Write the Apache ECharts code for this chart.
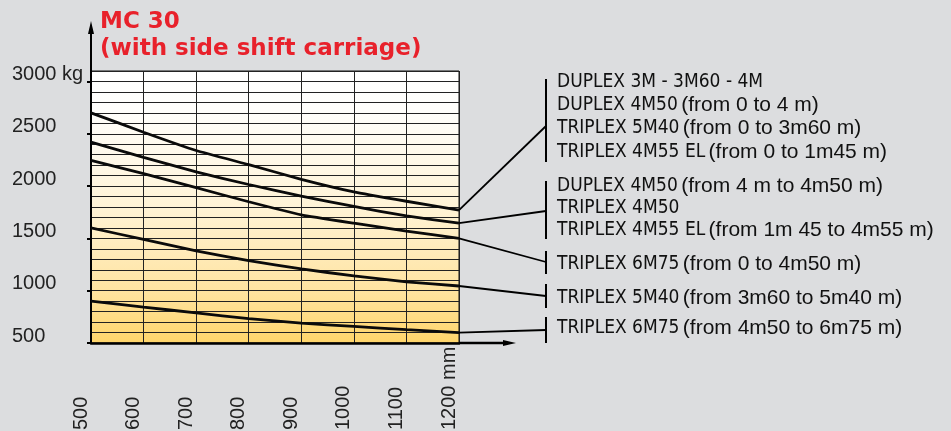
<!DOCTYPE html>
<html>
<head>
<meta charset="utf-8">
<style>
  html, body { margin: 0; padding: 0; background: #dcdddf; }
  #chart { width: 951px; height: 431px; }
</style>
<script src="https://cdn.jsdelivr.net/npm/echarts@6/dist/echarts.min.js"></script>
</head>
<body>
<div id="chart"></div>
<script>
// load centre (mm)
const loadCentres = [500, 600, 700, 800, 900, 1000, 1100, 1200];
// capacity curves (kg), top to bottom
const curveA = [2700, 2515, 2340, 2205, 2065, 1945, 1855, 1770];
const curveB = [2420, 2275, 2135, 2015, 1905, 1805, 1715, 1645];
const curveC = [2245, 2120, 1985, 1850, 1725, 1645, 1570, 1500];
const curveD = [1600, 1490, 1380, 1287, 1208, 1141, 1085, 1045];
const curveE = [900, 843, 788, 733, 690, 658, 627, 600];
const yLabelValues = [500, 1000, 1500, 2000, 2500, 3000];

// legend groups: [condensed part, normal part]
const groupA = [
  ['DUPLEX 3M - 3M60 - 4M', ''],
  ['DUPLEX 4M50', '(from 0 to 4 m)'],
  ['TRIPLEX 5M40', '(from 0 to 3m60 m)'],
  ['TRIPLEX 4M55 EL', '(from 0 to 1m45 m)']
];
const groupB = [
  ['DUPLEX 4M50', '(from 4 m to 4m50 m)'],
  ['TRIPLEX 4M50', ''],
  ['TRIPLEX 4M55 EL', '(from 1m 45 to 4m55 m)']
];
const groupC = [['TRIPLEX 6M75', '(from 0 to 4m50 m)']];
const groupD = [['TRIPLEX 5M40', '(from 3m60 to 5m40 m)']];
const groupE = [['TRIPLEX 6M75', '(from 4m50 to 6m75 m)']];

const chart = echarts.init(document.getElementById('chart'));

function pairs(vals) {
  return vals.map((v, i) => [loadCentres[i], v]);
}

const lineStyle = { color: '#0a0a0a', width: 2.8 };
const series = [curveA, curveB, curveC, curveD, curveE].map(c => ({
  type: 'line',
  data: pairs(c),
  showSymbol: false,
  smooth: 0.12,
  lineStyle: lineStyle,
  silent: true,
  z: 5
}));

const labelFont = { fontFamily: 'Liberation Sans', fontSize: 20, color: '#222' };

chart.setOption({
  backgroundColor: '#dcdddf',
  animation: false,
  grid: {
    left: 91, right: 492, top: 71, bottom: 88,
    outerBoundsMode: 'none',
    show: true,
    borderColor: '#111',
    borderWidth: 1,
    backgroundColor: new echarts.graphic.LinearGradient(0, 0, 0, 1, [
      { offset: 0, color: '#ffffff' },
      { offset: 0.15, color: '#fffefb' },
      { offset: 0.5, color: '#fff3d6' },
      { offset: 0.8, color: '#ffe4a2' },
      { offset: 1, color: '#ffd56a' }
    ])
  },
  xAxis: {
    type: 'value',
    min: 500, max: 1200, interval: 100,
    axisLine: { show: true, lineStyle: { color: '#000', width: 2.5 } },
    axisTick: { show: false },
    splitLine: { show: true, lineStyle: { color: '#222', width: 1 } },
    axisLabel: Object.assign({
      rotate: 90,
      align: 'left',
      verticalAlign: 'bottom',
      margin: 87,
      formatter: v => v === 1200 ? '1200 mm' : String(v)
    }, labelFont)
  },
  yAxis: [
    {
      // fine grid every 100 kg
      type: 'value',
      min: 500, max: 3100, interval: 100,
      axisLine: { show: true, lineStyle: { color: '#000', width: 2 } },
      axisTick: { show: false },
      axisLabel: { show: false },
      splitLine: { show: true, lineStyle: { color: '#222', width: 1 } }
    },
    {
      // labelled ticks every 500 kg
      type: 'value',
      position: 'left',
      min: 500, max: 3100,
      axisLine: { show: false },
      splitLine: { show: false },
      axisTick: {
        show: true,
        customValues: yLabelValues,
        length: 4,
        lineStyle: { color: '#000', width: 2 }
      },
      axisLabel: Object.assign({
        customValues: yLabelValues,
        align: 'left',
        verticalAlign: 'bottom',
        margin: 79,
        padding: [0, 0, -3, 0],
        formatter: v => v === 3000 ? '3000 kg' : String(v)
      }, labelFont)
    }
  ],
  series: series
});

// annotations: title, axis arrows, leader lines, brackets, legend texts
const bracketX = 546;
const textX = 557;
const brackets = [[79, 162], [181, 239], [251, 274], [284, 308], [317, 343]];
const leaderTargets = [126, 211, 262, 296, 330];
const curves = [curveA, curveB, curveC, curveD, curveE];
const groups = [groupA, groupB, groupC, groupD, groupE];
const groupTextY = [[82, 105, 128, 152], [186, 208, 230], [264], [298], [328]];

const g = [];
g.push({
  type: 'text', left: 100, top: 9,
  style: {
    text: 'MC 30\n(with side shift carriage)',
    font: 'bold 23px "DejaVu Sans"',
    fill: '#e8212b',
    lineHeight: 27
  }
});

const origin = chart.convertToPixel({ gridIndex: 0 }, [500, 500]);
const xEnd = chart.convertToPixel({ gridIndex: 0 }, [1200, 3100]);
// y axis extension + arrow
g.push({ type: 'line', shape: { x1: origin[0], y1: xEnd[1], x2: origin[0], y2: 26 }, style: { stroke: '#000', lineWidth: 2 } });
g.push({ type: 'polygon', shape: { points: [[origin[0], 21], [origin[0] - 3, 34], [origin[0] + 3, 34]] }, style: { fill: '#000' } });
// x axis extension + arrow
g.push({ type: 'line', shape: { x1: xEnd[0], y1: origin[1], x2: 508, y2: origin[1] }, style: { stroke: '#000', lineWidth: 2.5 } });
g.push({ type: 'polygon', shape: { points: [[516, origin[1]], [503, origin[1] - 3], [503, origin[1] + 3]] }, style: { fill: '#000' } });

curves.forEach((c, i) => {
  const p = chart.convertToPixel({ gridIndex: 0 }, [1200, c[c.length - 1]]);
  g.push({ type: 'line', shape: { x1: p[0], y1: p[1], x2: bracketX, y2: leaderTargets[i] }, style: { stroke: '#000', lineWidth: 1.8 } });
  g.push({ type: 'line', shape: { x1: bracketX, y1: brackets[i][0], x2: bracketX, y2: brackets[i][1] }, style: { stroke: '#000', lineWidth: 2 } });
  groups[i].forEach((row, j) => {
    g.push({
      type: 'text', x: textX, y: groupTextY[i][j],
      style: {
        text: '{a|' + row[0] + '}' + (row[1] ? ' {b|' + row[1] + '}' : ''),
        verticalAlign: 'middle',
        fill: '#111',
        rich: {
          a: { fontFamily: '"DejaVu Sans Condensed"', fontSize: 19, fill: '#111' },
          b: { fontFamily: 'Liberation Sans', fontSize: 21, fill: '#111' }
        }
      }
    });
  });
});

chart.setOption({ graphic: g });
</script>
</body>
</html>
